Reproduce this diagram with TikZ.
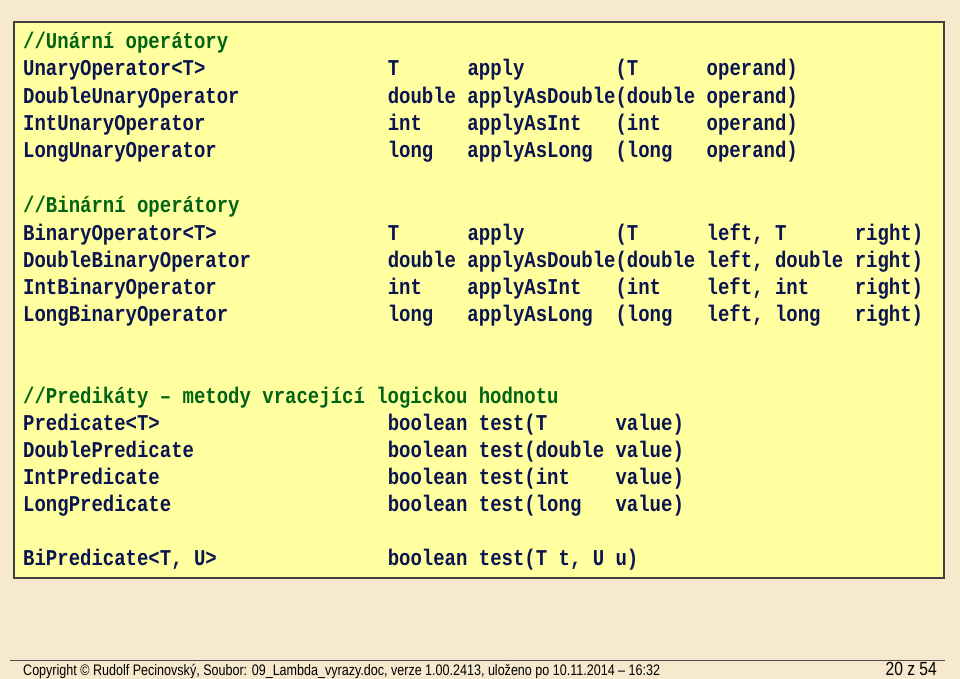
\documentclass[tikz,border=0pt]{standalone}
\usepackage{fontspec}
\newfontfamily\codef[FakeStretch=0.84,UprightFont=*-Bold]{Liberation Mono}
\newfontfamily\footf[FakeStretch=0.82]{Liberation Sans}
\definecolor{bg}{RGB}{246,233,205}
\definecolor{boxy}{RGB}{255,255,160}
\definecolor{codec}{RGB}{10,20,80}
\definecolor{cmt}{RGB}{0,100,20}
\begin{document}
\begin{tikzpicture}[x=1pt,y=-1pt,
  codeln/.style={anchor=base west,inner sep=0pt,font=\codef\fontsize{22.6}{24}\selectfont,text=codec},
  cmtln/.style={codeln,text=cmt}]
\fill[bg] (0,0) rectangle (960,679);
\useasboundingbox (0,0) rectangle (960,679);
\draw[fill=boxy,draw=black!75,line width=1.2pt] (14,22) rectangle (944,578);
\def\L#1#2#3{\node[#1] at (23,#2+7) {\strut#3};}
\begingroup\obeyspaces
\L{cmtln}{42}{//Unární operátory}
\L{codeln}{69}{UnaryOperator<T>                T      apply        (T      operand)}
\L{codeln}{97}{DoubleUnaryOperator             double applyAsDouble(double operand)}
\L{codeln}{124}{IntUnaryOperator                int    applyAsInt   (int    operand)}
\L{codeln}{151}{LongUnaryOperator               long   applyAsLong  (long   operand)}
\L{cmtln}{205}{//Binární operátory}
\L{codeln}{233}{BinaryOperator<T>               T      apply        (T      left, T      right)}
\L{codeln}{260}{DoubleBinaryOperator            double applyAsDouble(double left, double right)}
\L{codeln}{287}{IntBinaryOperator               int    applyAsInt   (int    left, int    right)}
\L{codeln}{314}{LongBinaryOperator              long   applyAsLong  (long   left, long   right)}
\L{cmtln}{396}{//Predikáty – metody vracející logickou hodnotu}
\L{codeln}{423}{Predicate<T>                    boolean test(T      value)}
\L{codeln}{450}{DoublePredicate                 boolean test(double value)}
\L{codeln}{477}{IntPredicate                    boolean test(int    value)}
\L{codeln}{504}{LongPredicate                   boolean test(long   value)}
\L{codeln}{558}{BiPredicate<T, U>               boolean test(T t, U u)}
\endgroup
\coordinate (fl) at (10,660);
\coordinate (fr) at (945,660);
\draw[black!70,line width=0.8pt] (fl) -- (fr);
\node[anchor=base west,inner sep=0pt,font=\footf\fontsize{15.3}{17}\selectfont] (copy) at (23,675) {Copyright © Rudolf Pecinovský, Soubor: 09\_Lambda\_vyrazy.doc, verze 1.00.2413, uloženo po 10.11.2014 – 16:32};
\node[anchor=base east,inner sep=0pt,font=\footf\fontsize{19}{20}\selectfont] (pg) at (937,675) {20 z 54};
\end{tikzpicture}
\end{document}
